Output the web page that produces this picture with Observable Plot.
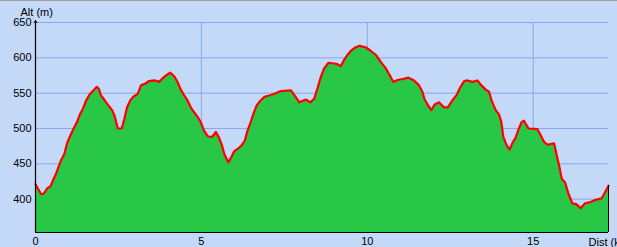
<!DOCTYPE html>
<html>
<head>
<meta charset="utf-8">
<script src="https://cdn.jsdelivr.net/npm/d3@7"></script>
<script src="https://cdn.jsdelivr.net/npm/@observablehq/plot@0.6"></script>
<style>
  html, body { margin: 0; padding: 0; background: #c4d8f8; overflow: hidden; }
  #wrap { position: relative; width: 617px; height: 247px; }
  #topline { position: absolute; left: 0; top: 0; width: 617px; height: 1px; background: #a0a0a0; }
</style>
</head>
<body>
<div id="wrap"><div id="topline"></div></div>
<script>
// Distance (km)
const dist = [0, 0.17, 0.25, 0.35, 0.45, 0.53, 0.61, 0.69, 0.77, 0.87, 0.95, 1.05, 1.15, 1.25, 1.33, 1.43, 1.53, 1.63, 1.75, 1.85, 1.91, 1.97, 2.07, 2.19, 2.31, 2.39, 2.48, 2.60, 2.67, 2.76, 2.86,
  2.95, 3.08, 3.18, 3.33, 3.41, 3.61, 3.73, 3.83, 3.93, 4.06, 4.18, 4.28, 4.38, 4.48, 4.58, 4.68, 4.78, 4.89, 4.98, 5.08, 5.19, 5.32, 5.44, 5.52, 5.62,
  5.69, 5.81, 5.91, 5.99, 6.09, 6.21, 6.31, 6.39, 6.47, 6.57, 6.67, 6.79, 6.91, 7.07, 7.24, 7.39, 7.70, 7.82, 7.95, 8.15, 8.28, 8.40,
  8.50, 8.60, 8.70, 8.83, 9.00, 9.10, 9.20, 9.30, 9.40, 9.53, 9.65, 9.77, 9.95, 10.10, 10.26, 10.41, 10.56, 10.68, 10.78, 10.94, 11.08, 11.24, 11.41,
  11.56, 11.66, 11.73, 11.83, 11.93, 12.03, 12.16, 12.31, 12.43, 12.57, 12.70, 12.80, 12.92, 13.02, 13.17, 13.32, 13.44, 13.57, 13.67, 13.75, 13.87, 13.97, 14.04, 14.10, 14.20,
  14.29, 14.37, 14.47, 14.57, 14.65, 14.72, 14.86, 15.13, 15.23, 15.33, 15.43, 15.63, 15.70, 15.78, 15.86, 15.96, 16.06, 16.18, 16.30, 16.43, 16.56, 16.73, 16.88, 17.06, 17.16, 17.27];
// Altitude (m)
const alt = [421, 407, 408, 415, 418, 427, 435, 445, 455, 464, 479, 490, 500, 509, 519, 528, 540, 548, 554, 559, 556, 547, 541, 533, 526, 517, 500, 500, 512, 530, 540,
  545, 549, 561, 564, 567, 568, 566, 571, 575, 579, 574, 566, 555, 547, 540, 530, 523, 516, 509, 497, 489, 488, 495, 488, 476,
  464, 452, 460, 468, 471, 476, 483, 497, 507, 521, 533, 540, 545, 547, 550, 553, 554, 546, 537, 541, 537, 542,
  557, 573, 585, 593, 592, 591, 588, 597, 604, 611, 615, 617, 615, 610, 604, 594, 585, 575, 566, 569, 570, 572, 568,
  561, 552, 541, 533, 526, 534, 537, 530, 530, 540, 548, 558, 567, 568, 566, 568, 561, 555, 552, 539, 526, 520, 509, 488, 476,
  470, 479, 487, 500, 509, 511, 500, 499, 490, 481, 477, 479, 464, 448, 429, 424, 408, 394, 393, 387, 394, 396, 399, 401, 409, 419];

const yTicks = [400, 450, 500, 550, 600, 650];
const xTicks = [0, 5, 10, 15];
const xGrid = [5, 10, 15];
const yMin = 352.8, yMax = 650;
const xMax = 17.27;

const data = dist.map((d, i) => ({dist: d, alt: alt[i]}));
const last = data[data.length - 1];

const green = "#28c846", red = "#ff0000", grid = "#88a8f0";

const chart = Plot.plot({
  width: 617,
  height: 247,
  marginLeft: 35,
  marginRight: 9,
  marginTop: 22,
  marginBottom: 15,
  style: {background: "transparent", fontFamily: "'Liberation Sans', Arial, sans-serif", fontSize: "11px", color: "black", overflow: "visible"},
  x: {domain: [0, xMax], label: null},
  y: {domain: [yMin, yMax], label: null},
  marks: [
    Plot.gridY(yTicks.filter(t => t > 400 || true), {stroke: grid, strokeOpacity: 1, strokeWidth: 1}),
    Plot.gridX(xGrid, {stroke: grid, strokeOpacity: 1, strokeWidth: 1}),
    Plot.areaY(data, {x: "dist", y1: yMin, y2: "alt", fill: green}),
    Plot.line(data, {x: "dist", y: "alt", stroke: red, strokeWidth: 2.2}),
    Plot.ruleX([last], {x: "dist", y1: yMin, y2: "alt", stroke: "black", strokeWidth: 1}),
    Plot.ruleX([0], {y1: yMin, y2: yMax, stroke: "black", strokeWidth: 1.2}),
    Plot.ruleY([yMin], {stroke: "black", strokeWidth: 1.2}),
    Plot.arrow([0], {x1: 0, x2: 0, y1: 640, y2: 653, stroke: "black", strokeWidth: 1, headLength: 4}),
    Plot.axisY(yTicks, {tickSize: 0, tickPadding: 4, fill: "black", label: null}),
    Plot.axisX(xTicks, {tickSize: 0, tickPadding: 5, fill: "black", label: null}),
    Plot.text(["Alt (m)"], {frameAnchor: "top-left", dx: -15, dy: -7, textAnchor: "start", lineAnchor: "bottom", fill: "black"}),
    Plot.text(["Dist (km)"], {frameAnchor: "bottom-right", dx: -20, dy: 13, textAnchor: "start", lineAnchor: "bottom", fill: "black"})
  ]
});
document.getElementById("wrap").appendChild(chart);
</script>
</body>
</html>
